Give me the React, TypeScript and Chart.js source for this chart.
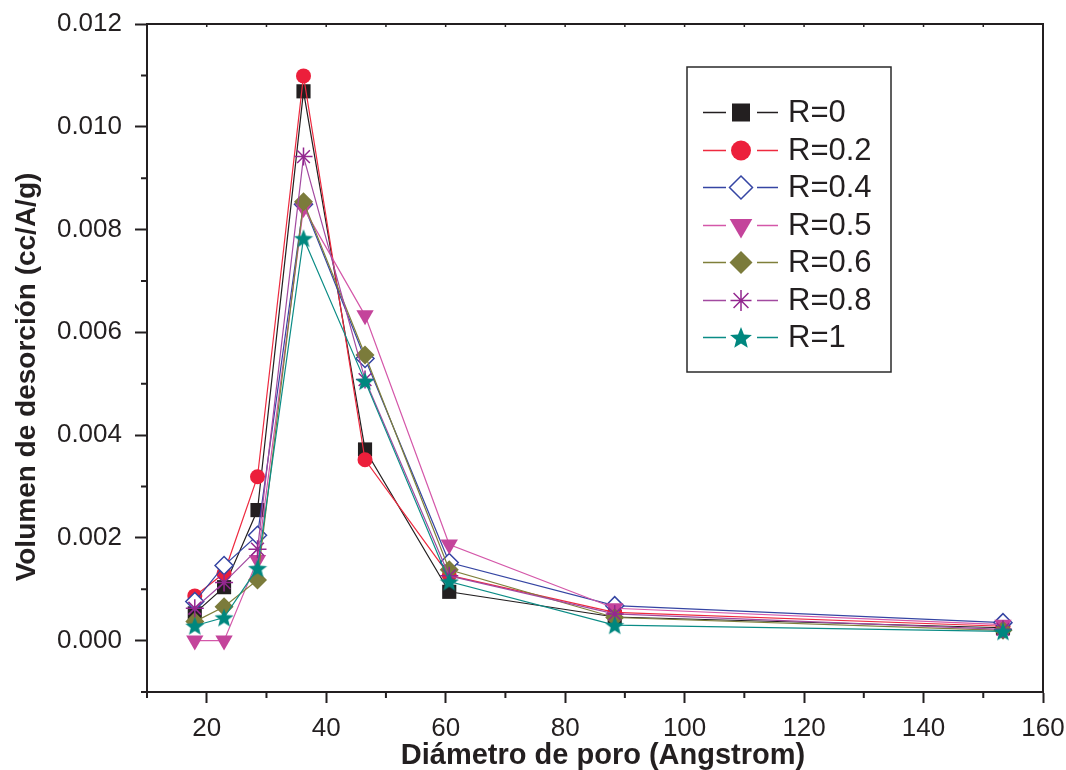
import React, { useEffect, useRef } from 'react';
import { Chart, registerables } from 'chart.js';

Chart.register(...registerables);

// ---------- data ----------
const poreDiameter = [18.0, 22.9, 28.5, 36.2, 46.5, 60.6, 88.3, 153.3];
const volR0 = [0.00053, 0.00104, 0.00254, 0.01069, 0.00372, 0.00095, 0.00046, 0.00025];
const volR02 = [0.00087, 0.00131, 0.00319, 0.01099, 0.00352, 0.00127, 0.00055, 0.00028];
const volR04 = [0.00076, 0.00146, 0.00205, 0.00849, 0.00549, 0.00152, 0.00068, 0.00035];
const volR05 = [0.0, 0.0, 0.00157, 0.00842, 0.00633, 0.00187, 0.00063, 0.00031];
const volR06 = [0.00037, 0.00066, 0.00118, 0.00854, 0.00556, 0.00138, 0.00045, 0.0002];
const volR08 = [0.00063, 0.00113, 0.00178, 0.00942, 0.00508, 0.00126, 0.00052, 0.00022];
const volR1 = [0.00029, 0.00045, 0.00141, 0.00783, 0.00505, 0.00115, 0.0003, 0.00018];
const seriesLabels = ['R=0', 'R=0.2', 'R=0.4', 'R=0.5', 'R=0.6', 'R=0.8', 'R=1'];
const seriesValues = [volR0, volR02, volR04, volR05, volR06, volR08, volR1];

const xMajorTicks = [20, 40, 60, 80, 100, 120, 140, 160];
const xMinorTicks = [10, 30, 50, 70, 90, 110, 130, 150];
const yMinorTicks = [-0.001, 0.001, 0.003, 0.005, 0.007, 0.009, 0.011];

const xTitle = 'Diámetro de poro (Angstrom)';
const yTitle = 'Volumen de desorción (cc/A/g)';

// ---------- styles ----------
const FONT = '"Liberation Sans", Arial, Helvetica, sans-serif';
const INK = '#231f20';

type Shape = 'square' | 'circle' | 'diamondOpen' | 'triDown' | 'diamond' | 'asterisk' | 'star5';
const seriesStyle: { line: string; fill: string; stroke: string; shape: Shape }[] = [
  { line: '#231f20', fill: '#231f20', stroke: '#231f20', shape: 'square' },
  { line: '#ee2a3f', fill: '#ec1f3b', stroke: '#ec1f3b', shape: 'circle' },
  { line: '#3545a3', fill: '#ffffff', stroke: '#3545a3', shape: 'diamondOpen' },
  { line: '#d457a9', fill: '#c4449b', stroke: '#c4449b', shape: 'triDown' },
  { line: '#7f7f3a', fill: '#7b7b3b', stroke: '#7b7b3b', shape: 'diamond' },
  { line: '#a24aa0', fill: '#93278f', stroke: '#93278f', shape: 'asterisk' },
  { line: '#0b8c86', fill: '#00877f', stroke: '#00877f', shape: 'star5' },
];

function starPath(ctx: CanvasRenderingContext2D, cx: number, cy: number, R: number, r: number) {
  ctx.beginPath();
  for (let k = 0; k < 10; k++) {
    const ang = -Math.PI / 2 + (k * Math.PI) / 5;
    const rad = k % 2 === 0 ? R : r;
    const px = cx + Math.cos(ang) * rad;
    const py = cy + Math.sin(ang) * rad;
    if (k === 0) ctx.moveTo(px, py);
    else ctx.lineTo(px, py);
  }
  ctx.closePath();
}

function makeStarImage(size: number, color: string) {
  const c = document.createElement('canvas');
  c.width = size;
  c.height = size;
  const g = c.getContext('2d')!;
  g.fillStyle = color;
  starPath(g, size / 2, size / 2 + 1, size / 2, size / 4.6);
  g.fill();
  return c;
}

function drawMarker(ctx: CanvasRenderingContext2D, shape: Shape, x: number, y: number, r: number, fill: string, stroke: string) {
  ctx.save();
  ctx.fillStyle = fill;
  ctx.strokeStyle = stroke;
  ctx.lineWidth = 1.5;
  ctx.beginPath();
  switch (shape) {
    case 'square':
      ctx.fillRect(x - r, y - r, 2 * r, 2 * r);
      break;
    case 'circle':
      ctx.arc(x, y, r, 0, Math.PI * 2);
      ctx.fill();
      break;
    case 'diamondOpen':
    case 'diamond':
      ctx.moveTo(x, y - r);
      ctx.lineTo(x + r, y);
      ctx.lineTo(x, y + r);
      ctx.lineTo(x - r, y);
      ctx.closePath();
      ctx.fill();
      if (shape === 'diamondOpen') ctx.stroke();
      break;
    case 'triDown':
      ctx.moveTo(x - r * 0.87, y - r * 0.5);
      ctx.lineTo(x + r * 0.87, y - r * 0.5);
      ctx.lineTo(x, y + r);
      ctx.closePath();
      ctx.fill();
      break;
    case 'asterisk': {
      for (let k = 0; k < 4; k++) {
        const a = (k * Math.PI) / 4;
        ctx.moveTo(x - Math.cos(a) * r, y - Math.sin(a) * r);
        ctx.lineTo(x + Math.cos(a) * r, y + Math.sin(a) * r);
      }
      ctx.stroke();
      break;
    }
    case 'star5':
      starPath(ctx, x, y + 1, r, r / 2.3);
      ctx.fill();
      break;
  }
  ctx.restore();
}

export default function App() {
  const canvasRef = useRef<HTMLCanvasElement | null>(null);

  useEffect(() => {
    const canvas = canvasRef.current;
    if (!canvas) return;
    Chart.defaults.font.family = FONT;
    Chart.defaults.color = INK;

    const starImg = makeStarImage(20, seriesStyle[6].fill);

    const pointCfg = (i: number) => {
      const s = seriesStyle[i];
      switch (s.shape) {
        case 'square':
          return { pointStyle: 'rect', pointRadius: 10, pointBorderWidth: 0 };
        case 'circle':
          return { pointStyle: 'circle', pointRadius: 7.5, pointBorderWidth: 0 };
        case 'diamondOpen':
          return { pointStyle: 'rectRot', pointRadius: 9, pointBorderWidth: 1.5 };
        case 'triDown':
          return { pointStyle: 'triangle', pointRotation: 180, pointRadius: 10, pointBorderWidth: 0 };
        case 'diamond':
          return { pointStyle: 'rectRot', pointRadius: 9.5, pointBorderWidth: 0 };
        case 'asterisk':
          return { pointStyle: 'star', pointRadius: 9, pointBorderWidth: 1.5 };
        default:
          return { pointStyle: starImg, pointRadius: 10, pointBorderWidth: 0 };
      }
    };

    const datasets = seriesValues.map((vals, i) => ({
      label: seriesLabels[i],
      data: poreDiameter.map((x, k) => ({ x, y: vals[k] })),
      borderColor: seriesStyle[i].line,
      borderWidth: 1.2,
      pointBackgroundColor: seriesStyle[i].fill,
      pointBorderColor: seriesStyle[i].stroke,
      showLine: true,
      fill: false,
      tension: 0,
      order: 6 - i,
      ...pointCfg(i),
    }));

    const framePlugin = {
      id: 'frameAndLegend',
      afterDraw(chart: any) {
        const { ctx, chartArea } = chart;
        const { left, right, top, bottom } = chartArea;
        const xs = chart.scales.x;
        const ys = chart.scales.y;
        ctx.save();
        ctx.strokeStyle = INK;
        ctx.lineWidth = 2;
        // top & right frame
        ctx.beginPath();
        ctx.moveTo(left - 1, top);
        ctx.lineTo(right, top);
        ctx.lineTo(right, bottom);
        ctx.stroke();
        // minor ticks
        ctx.beginPath();
        xMinorTicks.forEach((v) => {
          const px = xs.getPixelForValue(v);
          ctx.moveTo(px, bottom);
          ctx.lineTo(px, bottom + 6);
        });
        yMinorTicks.forEach((v) => {
          const py = ys.getPixelForValue(v);
          ctx.moveTo(left, py);
          ctx.lineTo(left - 6, py);
        });
        ctx.stroke();
        // small top ticks
        ctx.lineWidth = 1.5;
        ctx.beginPath();
        [...xMajorTicks, ...xMinorTicks].forEach((v) => {
          const px = xs.getPixelForValue(v);
          if (px > left + 2 && px < right - 2) {
            ctx.moveTo(px, top);
            ctx.lineTo(px, top + 3);
          }
        });
        ctx.stroke();

        // axis titles
        ctx.fillStyle = INK;
        ctx.textAlign = 'center';
        ctx.textBaseline = 'middle';
        ctx.font = `bold 29px ${FONT}`;
        ctx.fillText(xTitle, (left + right) / 2 + 8, 756);
        ctx.save();
        ctx.translate(27, (top + bottom) / 2 + 19);
        ctx.rotate(-Math.PI / 2);
        ctx.font = `bold 28px ${FONT}`;
        ctx.fillText(yTitle, 0, 0);
        ctx.restore();

        // legend
        const bx = left + 540;
        const by = top + 43;
        const bw = 204;
        const bh = 305;
        ctx.fillStyle = '#ffffff';
        ctx.fillRect(bx, by, bw, bh);
        ctx.strokeStyle = '#2a2a2a';
        ctx.lineWidth = 1.5;
        ctx.strokeRect(bx, by, bw, bh);
        const legendR = [9, 10, 11.5, 13, 11.5, 10.5, 11.5];
        for (let i = 0; i < seriesLabels.length; i++) {
          const s = seriesStyle[i];
          const cy = Math.round(by + 45 + i * 37.5) + 0.5;
          const mx = bx + 54;
          ctx.save();
          ctx.strokeStyle = s.line;
          ctx.lineWidth = 1.3;
          ctx.beginPath();
          ctx.moveTo(bx + 16, cy);
          ctx.lineTo(mx - 15, cy);
          ctx.moveTo(mx + 16, cy);
          ctx.lineTo(bx + 91, cy);
          ctx.stroke();
          ctx.restore();
          drawMarker(ctx, s.shape, mx, cy, legendR[i], s.fill, s.stroke);
          ctx.fillStyle = INK;
          ctx.font = `31px ${FONT}`;
          ctx.textAlign = 'left';
          ctx.textBaseline = 'middle';
          ctx.fillText(seriesLabels[i], bx + 101, cy + 1);
        }
        ctx.restore();
      },
    };

    const chart = new Chart(canvas, {
      type: 'scatter',
      data: { datasets: datasets as any },
      options: {
        animation: false,
        responsive: false,
        devicePixelRatio: 1,
        layout: { padding: { top: 24, right: 23, left: 0, bottom: 0 } },
        plugins: { legend: { display: false }, tooltip: { enabled: false } },
        scales: {
          x: {
            type: 'linear',
            min: 10,
            max: 160,
            ticks: {
              stepSize: 20,
              font: { size: 26 },
              color: INK,
              padding: 10,
              maxRotation: 0,
              callback: (v: any) => (xMajorTicks.includes(Math.round(Number(v))) ? String(Math.round(Number(v))) : ''),
            },
            grid: {
              drawOnChartArea: false,
              drawTicks: true,
              tickLength: 11,
              tickWidth: 2,
              tickColor: (c: any) => (c.tick && xMajorTicks.includes(Math.round(c.tick.value)) ? INK : 'rgba(0,0,0,0)'),
            },
            border: { display: true, color: INK, width: 2 },
            title: { display: false, text: xTitle },
            afterFit: (scale: any) => {
              scale.height = 78;
              scale.paddingLeft = 0;
              scale.paddingRight = 0;
            },
          },
          y: {
            type: 'linear',
            min: -0.001,
            max: 0.012,
            ticks: {
              stepSize: 0.002,
              font: { size: 26 },
              color: INK,
              padding: 13,
              callback: (v: any) => (Number(v) < -0.0005 ? '' : Number(v).toFixed(3)),
            },
            grid: {
              drawOnChartArea: false,
              drawTicks: true,
              tickLength: 12,
              tickWidth: 2,
              tickColor: (c: any) => (c.tick && c.tick.value > -0.0005 ? INK : 'rgba(0,0,0,0)'),
            },
            border: { display: true, color: INK, width: 2 },
            title: { display: false, text: yTitle },
            afterFit: (scale: any) => {
              scale.width = 147;
              scale.paddingTop = 0;
              scale.paddingBottom = 0;
            },
          },
        },
      },
      plugins: [framePlugin],
    } as any);

    return () => chart.destroy();
  }, []);

  return (
    <div style={{ position: 'absolute', left: 0, top: 0, width: 1066, height: 770, background: '#ffffff' }}>
      <canvas ref={canvasRef} width={1066} height={770} />
    </div>
  );
}
